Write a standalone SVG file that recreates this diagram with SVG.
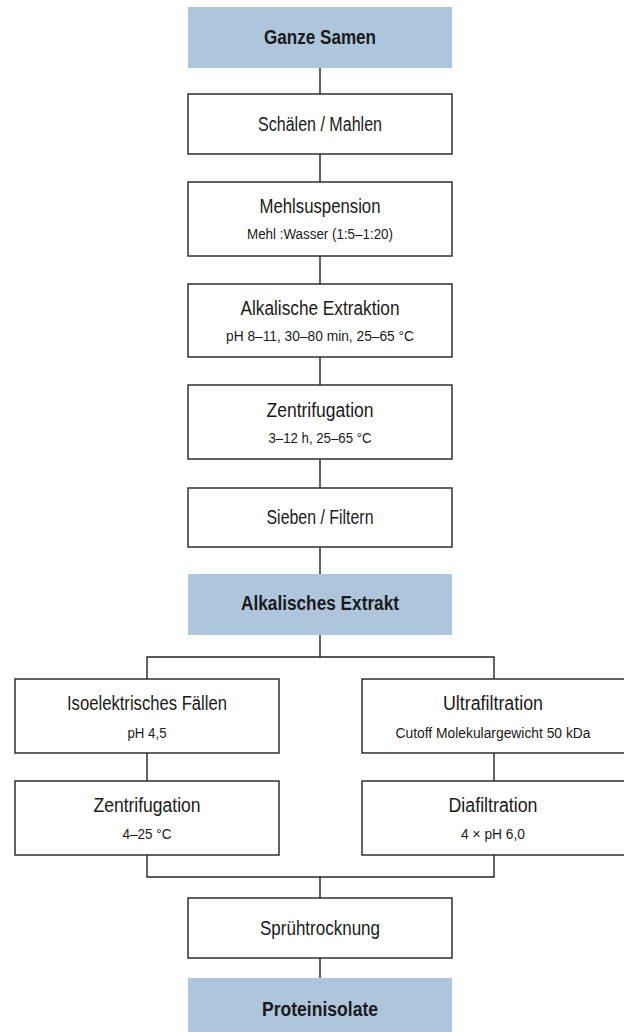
<svg xmlns="http://www.w3.org/2000/svg" width="624" height="1032" viewBox="0 0 624 1032">
<style>
.box{fill:#fff;stroke:#222;stroke-width:1.4}
.key{fill:#aec6dc;stroke:none}
.t{font-family:"Liberation Sans",Arial,sans-serif;font-size:19.5px;fill:#1a1a1a;text-anchor:middle}
.b{font-weight:bold}
.s{font-size:15.5px}
.c line{stroke:#222;stroke-width:1.4}
</style>
<rect width="624" height="1032" fill="#fff"/>
<g class="c" id="connectors">
<line x1="320" y1="68" x2="320" y2="94"/>
<line x1="320" y1="154" x2="320" y2="182"/>
<line x1="320" y1="256" x2="320" y2="284"/>
<line x1="320" y1="357" x2="320" y2="385"/>
<line x1="320" y1="459" x2="320" y2="488"/>
<line x1="320" y1="547" x2="320" y2="574"/>
<line x1="320" y1="635" x2="320" y2="657"/>
<line x1="146.5" y1="657" x2="494.5" y2="657"/>
<line x1="147" y1="657" x2="147" y2="679"/>
<line x1="494" y1="657" x2="494" y2="679"/>
<line x1="147" y1="753" x2="147" y2="781"/>
<line x1="494" y1="753" x2="494" y2="781"/>
<line x1="147" y1="855" x2="147" y2="877"/>
<line x1="494" y1="855" x2="494" y2="877"/>
<line x1="146.5" y1="877" x2="494.5" y2="877"/>
<line x1="320" y1="877" x2="320" y2="898"/>
<line x1="320" y1="958" x2="320" y2="978"/>
</g>
<g id="ganze-samen"><rect class="key" x="188" y="7" width="264" height="61"/><text class="t b" x="320" y="43.5" textLength="112" lengthAdjust="spacingAndGlyphs">Ganze Samen</text></g>
<g id="schaelen"><rect class="box" x="188" y="94" width="264" height="60"/><text class="t" x="320" y="131" textLength="124" lengthAdjust="spacingAndGlyphs">Schälen / Mahlen</text></g>
<g id="mehlsuspension"><rect class="box" x="188" y="182" width="264" height="74"/><text class="t" x="320" y="212.5" textLength="121" lengthAdjust="spacingAndGlyphs">Mehlsuspension</text><text class="t s" x="320" y="238.5" textLength="146" lengthAdjust="spacingAndGlyphs">Mehl :Wasser (1:5–1:20)</text></g>
<g id="alkalische-extraktion"><rect class="box" x="188" y="284" width="264" height="73"/><text class="t" x="320" y="314.5" textLength="159" lengthAdjust="spacingAndGlyphs">Alkalische Extraktion</text><text class="t s" x="320" y="340.5" textLength="188" lengthAdjust="spacingAndGlyphs">pH 8–11, 30–80 min, 25–65 °C</text></g>
<g id="zentrifugation-1"><rect class="box" x="188" y="385" width="264" height="74"/><text class="t" x="320" y="416.5" textLength="107" lengthAdjust="spacingAndGlyphs">Zentrifugation</text><text class="t s" x="320" y="442.5" textLength="103" lengthAdjust="spacingAndGlyphs">3–12 h, 25–65 °C</text></g>
<g id="sieben"><rect class="box" x="188" y="488" width="264" height="59"/><text class="t" x="320" y="524" textLength="107" lengthAdjust="spacingAndGlyphs">Sieben / Filtern</text></g>
<g id="alkalisches-extrakt"><rect class="key" x="188" y="574" width="264" height="61"/><text class="t b" x="320" y="610" textLength="158" lengthAdjust="spacingAndGlyphs">Alkalisches Extrakt</text></g>
<g id="isoelektrisch"><rect class="box" x="15" y="679" width="264" height="74"/><text class="t" x="147" y="709.5" textLength="160" lengthAdjust="spacingAndGlyphs">Isoelektrisches Fällen</text><text class="t s" x="147" y="737.5" textLength="39" lengthAdjust="spacingAndGlyphs">pH 4,5</text></g>
<g id="zentrifugation-2"><rect class="box" x="15" y="781" width="264" height="74"/><text class="t" x="147" y="811.5" textLength="107" lengthAdjust="spacingAndGlyphs">Zentrifugation</text><text class="t s" x="147" y="838.5" textLength="49" lengthAdjust="spacingAndGlyphs">4–25 °C</text></g>
<g id="ultrafiltration"><rect class="box" x="362" y="679" width="264" height="74"/><text class="t" x="493" y="709.5" textLength="100" lengthAdjust="spacingAndGlyphs">Ultrafiltration</text><text class="t s" x="493" y="737.5" textLength="195" lengthAdjust="spacingAndGlyphs">Cutoff Molekulargewicht 50 kDa</text></g>
<g id="diafiltration"><rect class="box" x="362" y="781" width="264" height="74"/><text class="t" x="493" y="811.5" textLength="89" lengthAdjust="spacingAndGlyphs">Diafiltration</text><text class="t s" x="493" y="838.5" textLength="64" lengthAdjust="spacingAndGlyphs">4 × pH 6,0</text></g>
<g id="spruehtrocknung"><rect class="box" x="188" y="898" width="264" height="60"/><text class="t" x="320" y="935" textLength="120" lengthAdjust="spacingAndGlyphs">Sprühtrocknung</text></g>
<g id="proteinisolate"><rect class="key" x="188" y="978" width="264" height="61"/><text class="t b" x="320" y="1015.5" textLength="116" lengthAdjust="spacingAndGlyphs">Proteinisolate</text></g>
</svg>
